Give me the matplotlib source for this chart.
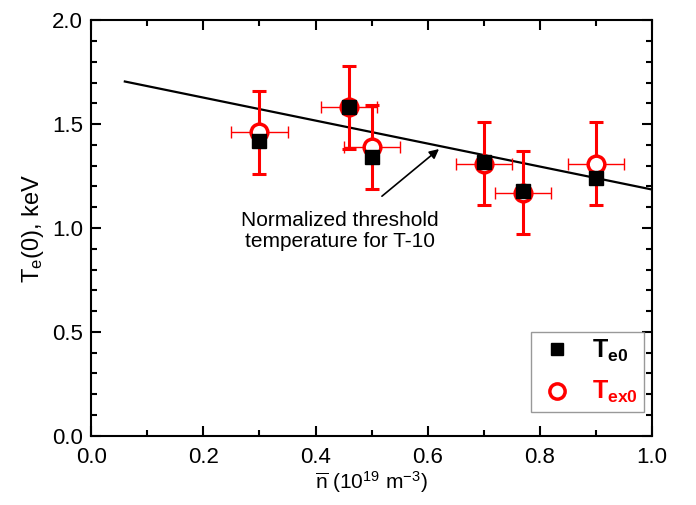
import matplotlib.pyplot as plt
from matplotlib.lines import Line2D
from matplotlib.ticker import MultipleLocator

plt.rcParams['font.family'] = ['Liberation Sans', 'DejaVu Sans']
plt.rcParams['mathtext.fontset'] = 'custom'
plt.rcParams['mathtext.rm'] = 'Liberation Sans'
plt.rcParams['mathtext.it'] = 'Liberation Sans:italic'
plt.rcParams['mathtext.bf'] = 'Liberation Sans:bold'

# density (1e19 m^-3)
n_avg = [0.30, 0.46, 0.50, 0.70, 0.77, 0.90]
te0 = [1.42, 1.58, 1.34, 1.32, 1.18, 1.24]
tex0 = [1.46, 1.58, 1.39, 1.31, 1.17, 1.31]
tex0_yerr = [0.20, 0.20, 0.20, 0.20, 0.20, 0.20]
n_xerr = [0.05, 0.05, 0.05, 0.05, 0.05, 0.05]

# normalized threshold temperature line
thr_n = [0.06, 1.0]
thr_t = [1.705, 1.185]

fig = plt.figure(figsize=(6.96, 5.05), dpi=100)
ax = fig.add_axes([0.131, 0.137, 0.806, 0.823])

ax.plot(thr_n, thr_t, color='black', lw=1.6, zorder=2)

# horizontal (thin) and vertical (thick) error bars
ax.errorbar(n_avg, tex0, xerr=n_xerr, fmt='none', ecolor='red',
            elinewidth=1.0, capsize=4, capthick=1.0, zorder=3)
ax.errorbar(n_avg, tex0, yerr=tex0_yerr, fmt='none', ecolor='red',
            elinewidth=2.2, capsize=5, capthick=2.2, zorder=3)

ax.plot(n_avg, tex0, 'o', ms=12, mfc='white', mec='red', mew=2.5,
        ls='none', zorder=4)
ax.plot(n_avg, te0, 's', ms=9.5, color='black', ls='none', zorder=5)

ax.annotate('Normalized threshold\ntemperature for T-10',
            xy=(0.62, 1.38), xytext=(0.443, 0.985),
            ha='center', va='center', fontsize=15, linespacing=1.1,
            arrowprops=dict(arrowstyle='-|>', color='black', lw=1.2,
                            mutation_scale=14, shrinkA=14, shrinkB=0))

ax.set_xlim(0, 1.0)
ax.set_ylim(0, 2.0)
ax.xaxis.set_major_locator(MultipleLocator(0.2))
ax.xaxis.set_minor_locator(MultipleLocator(0.1))
ax.yaxis.set_major_locator(MultipleLocator(0.5))
ax.yaxis.set_minor_locator(MultipleLocator(0.1))
ax.tick_params(which='both', direction='in', top=True, right=True,
               width=1.5, labelsize=16)
ax.tick_params(which='major', length=7)
ax.tick_params(which='minor', length=4)
ax.tick_params(axis='x', pad=8)
ax.tick_params(axis='y', pad=6)
for s in ax.spines.values():
    s.set_linewidth(1.5)

ax.set_xlabel(r'$\overline{\mathrm{n}}$ (10$^{19}$ m$^{-3}$)', fontsize=15,
              labelpad=1)
ax.set_ylabel(r'T$_{\mathrm{e}}$(0), keV', fontsize=17, labelpad=4)

handles = [Line2D([], [], marker='s', ms=9, color='black', ls='none'),
           Line2D([], [], marker='o', ms=11, mfc='white', mec='red',
                  mew=2.5, ls='none')]
labels = [r'$\mathbf{T_{e0}}$', r'$\mathbf{T_{ex0}}$']
leg = ax.legend(handles, labels, loc='lower right', fontsize=18,
                frameon=True, fancybox=False, edgecolor='gray',
                borderpad=0.25, labelspacing=0.6, handletextpad=0.6,
                handlelength=1.6, borderaxespad=0,
                bbox_to_anchor=(0.986, 0.058))
leg.get_frame().set_linewidth(1.0)
leg.get_texts()[1].set_color('red')

fig.savefig('out.png', dpi=100)
